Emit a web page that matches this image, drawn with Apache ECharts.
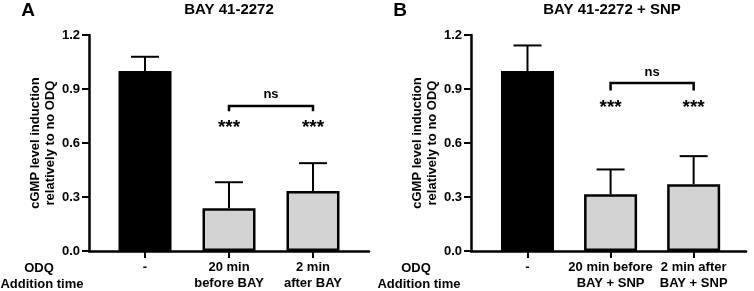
<!DOCTYPE html>
<html>
<head>
    <meta charset="utf-8">
    <title>cGMP induction - BAY 41-2272</title>
    <script src="https://cdn.jsdelivr.net/npm/echarts@6/dist/echarts.min.js"></script>
</head>
<body style="margin:0;background:#fff;">
    <div id="main" style="width:754px;height:291px;"></div>
    <script type="text/javascript">
        // --- data ---
        var positions = [0, 1, 2];
        var xLabelsA = ['-', '20 min\nbefore BAY', '2 min\nafter BAY'];
        var xLabelsB = ['-', '20 min before\nBAY + SNP', '2 min after\nBAY + SNP'];
        var meanA = [1.0, 0.238, 0.333];
        var upperA = [1.079, 0.382, 0.488];
        var meanB = [1.0, 0.315, 0.371];
        var upperB = [1.142, 0.453, 0.527];
        var barColors = ['#000000', '#d3d3d3', '#d3d3d3'];
        // significance: [fromX, toX, bracketTop, legBottom, nsLevel]
        var bracketA = [1, 2, 0.806, 0.776, 0.869];
        var bracketB = [1, 2, 0.933, 0.892, 0.991];
        var starsA = [[1, 0.682], [2, 0.682]];
        var starsB = [[1, 0.797], [2, 0.797]];

        var FONT = 'Liberation Sans, Arial, sans-serif';
        var chart = echarts.init(document.getElementById('main'));

        function barData(means) {
            return means.map(function (v, i) {
                return {
                    value: [positions[i], v],
                    itemStyle: { color: barColors[i], borderColor: '#000', borderWidth: 2.5 }
                };
            });
        }

        function errData(means, uppers) {
            return means.map(function (v, i) { return [positions[i], v, uppers[i]]; });
        }

        function renderErr(params, api) {
            var x = api.value(0);
            var p0 = api.coord([x, api.value(1)]);
            var p1 = api.coord([x, api.value(2)]);
            var half = 14;
            return {
                type: 'group',
                children: [{
                    type: 'line',
                    shape: { x1: p0[0], y1: p0[1], x2: p1[0], y2: p1[1] },
                    style: { stroke: '#000', lineWidth: 2 }
                }, {
                    type: 'line',
                    shape: { x1: p1[0] - half, y1: p1[1], x2: p1[0] + half, y2: p1[1] },
                    style: { stroke: '#000', lineWidth: 2 }
                }]
            };
        }

        function renderBracket(params, api) {
            var a = api.coord([api.value(0), api.value(3)]);
            var b = api.coord([api.value(0), api.value(2)]);
            var c = api.coord([api.value(1), api.value(2)]);
            var d = api.coord([api.value(1), api.value(3)]);
            var t = api.coord([(api.value(0) + api.value(1)) / 2, api.value(4)]);
            return {
                type: 'group',
                children: [{
                    type: 'polyline',
                    shape: { points: [a, b, c, d] },
                    style: { stroke: '#000', lineWidth: 2.5, fill: null }
                }, {
                    type: 'text',
                    style: {
                        x: t[0], y: t[1], text: 'ns',
                        textAlign: 'center', textVerticalAlign: 'middle',
                        font: 'bold 13px ' + FONT, fill: '#000'
                    }
                }]
            };
        }

        function renderStars(params, api) {
            var p = api.coord([api.value(0), api.value(1)]);
            return {
                type: 'text',
                style: {
                    x: p[0], y: p[1], text: '***',
                    textAlign: 'center', textVerticalAlign: 'middle',
                    font: 'bold 19px ' + FONT, fill: '#000'
                }
            };
        }

        function xAxisFor(idx, min, max, labels) {
            return {
                type: 'value',
                gridIndex: idx,
                min: min,
                max: max,
                splitLine: { show: false },
                axisLine: { show: true, onZero: false, lineStyle: { color: '#000', width: 2.5 } },
                axisTick: { show: true, customValues: positions, length: 7, lineStyle: { color: '#000', width: 2 } },
                axisLabel: {
                    customValues: positions,
                    margin: 8,
                    color: '#000',
                    fontFamily: FONT,
                    fontWeight: 'bold',
                    fontSize: 13,
                    lineHeight: 16,
                    formatter: function (v) { return labels[Math.round(v)]; }
                }
            };
        }

        function yAxisFor(idx) {
            return {
                type: 'value',
                gridIndex: idx,
                min: 0,
                max: 1.2,
                interval: 0.3,
                name: 'cGMP level induction\nrelatively to no ODQ',
                nameLocation: 'middle',
                nameGap: 31,
                nameTextStyle: {
                    color: '#000', fontFamily: FONT, fontWeight: 'bold',
                    fontSize: 13, lineHeight: 15
                },
                splitLine: { show: false },
                axisLine: { show: true, onZero: false, lineStyle: { color: '#000', width: 2.5 } },
                axisTick: { show: true, length: 7, lineStyle: { color: '#000', width: 2 } },
                axisLabel: {
                    color: '#000', fontFamily: FONT, fontWeight: 'bold', fontSize: 13, margin: 9,
                    formatter: function (v) { return v.toFixed(1); }
                }
            };
        }

        function textEl(x, y, str, size) {
            return {
                type: 'text',
                x: x, y: y,
                style: {
                    text: str, textAlign: 'center', textVerticalAlign: 'middle',
                    font: 'bold ' + size + 'px ' + FONT, fill: '#000'
                }
            };
        }

        var option = {
            animation: false,
            backgroundColor: '#fff',
            grid: [
                { left: 89, right: 385, top: 35, bottom: 38 },
                { left: 471, right: 8, top: 35, bottom: 38 }
            ],
            xAxis: [
                xAxisFor(0, -0.667, 2.667, xLabelsA),
                xAxisFor(1, -0.68, 2.63, xLabelsB)
            ],
            yAxis: [yAxisFor(0), yAxisFor(1)],
            graphic: [
                textEl(28, 11, 'A', 19),
                textEl(400, 11, 'B', 19),
                textEl(229, 10, 'BAY 41-2272', 15),
                textEl(612, 10, 'BAY 41-2272 + SNP', 15),
                textEl(39, 268, 'ODQ', 13),
                textEl(42, 284, 'Addition time', 13),
                textEl(416, 268, 'ODQ', 13),
                textEl(419, 284, 'Addition time', 13)
            ],
            series: [
                { type: 'bar', xAxisIndex: 0, yAxisIndex: 0, barWidth: 53, data: barData(meanA) },
                { type: 'bar', xAxisIndex: 1, yAxisIndex: 1, barWidth: 53, data: barData(meanB) },
                { type: 'custom', xAxisIndex: 0, yAxisIndex: 0, renderItem: renderErr, data: errData(meanA, upperA), z: 1 },
                { type: 'custom', xAxisIndex: 1, yAxisIndex: 1, renderItem: renderErr, data: errData(meanB, upperB), z: 1 },
                { type: 'custom', xAxisIndex: 0, yAxisIndex: 0, renderItem: renderBracket, data: [bracketA] },
                { type: 'custom', xAxisIndex: 1, yAxisIndex: 1, renderItem: renderBracket, data: [bracketB] },
                { type: 'custom', xAxisIndex: 0, yAxisIndex: 0, renderItem: renderStars, data: starsA },
                { type: 'custom', xAxisIndex: 1, yAxisIndex: 1, renderItem: renderStars, data: starsB }
            ]
        };

        chart.setOption(option);
    </script>
</body>
</html>
